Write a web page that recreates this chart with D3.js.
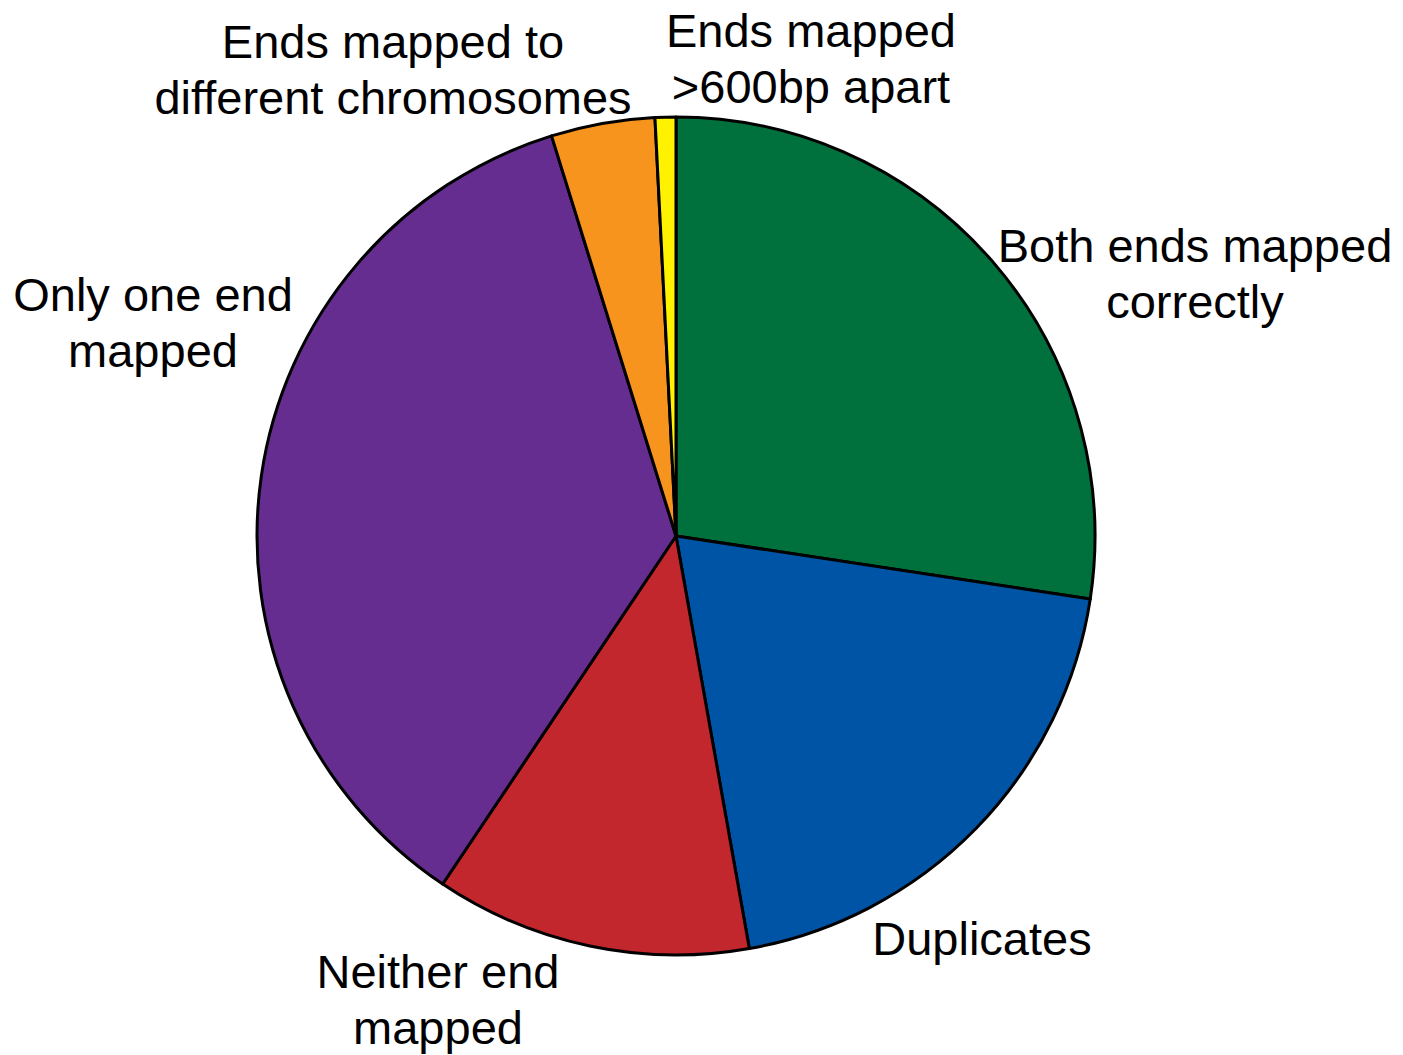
<!DOCTYPE html>
<html>
<head>
<meta charset="utf-8">
<script src="https://d3js.org/d3.v7.min.js"></script>
<style>
  html, body { margin: 0; padding: 0; background: #fff; }
  svg { display: block; }
  text { font-family: "Liberation Sans", Arial, sans-serif; fill: #000; }
</style>
</head>
<body>
<script>
// Read-pair mapping outcomes (percent of pairs), clockwise from 12 o'clock
const categories = [
  "Both ends mapped correctly",
  "Duplicates",
  "Neither end mapped",
  "Only one end mapped",
  "Ends mapped to different chromosomes",
  "Ends mapped >600bp apart"
];
const values = [27.4, 19.8, 12.2, 35.8, 4.0, 0.8];
const colors = ["#00703c", "#0054a6", "#c1272d", "#652d90", "#f7941d", "#fff200"];

// Label lines for each slice
const labelLines = [
  ["Both ends mapped", "correctly"],
  ["Duplicates"],
  ["Neither end", "mapped"],
  ["Only one end", "mapped"],
  ["Ends mapped to", "different chromosomes"],
  ["Ends mapped", ">600bp apart"]
];

// Label anchor points (centre x, first baseline y)
const labelAnchors = [
  [1195, 262],
  [982, 955],
  [438, 988],
  [153, 311],
  [393, 58],
  [811, 47]
];

const width = 1403, height = 1055;
const cx = 676, cy = 536, radius = 419;
const fontSize = 47, lineGap = 56;

const svg = d3.select("body").append("svg")
  .attr("width", width)
  .attr("height", height);

const pie = d3.pie().sort(null).value(d => d.value);
const arc = d3.arc().innerRadius(0).outerRadius(radius);

const data = categories.map((c, i) => ({ name: c, value: values[i], color: colors[i] }));

const g = svg.append("g").attr("transform", `translate(${cx},${cy})`);

g.selectAll("path")
  .data(pie(data))
  .join("path")
  .attr("d", arc)
  .attr("fill", d => d.data.color)
  .attr("stroke", "#000")
  .attr("stroke-width", 3)
  .attr("stroke-linejoin", "round");

const labels = svg.append("g").selectAll("text")
  .data(categories)
  .join("text")
  .attr("text-anchor", "middle")
  .attr("font-size", fontSize)
  .attr("x", (d, i) => labelAnchors[i][0])
  .attr("y", (d, i) => labelAnchors[i][1]);

labels.each(function(d, i) {
  const t = d3.select(this);
  labelLines[i].forEach((line, j) => {
    t.append("tspan")
      .attr("x", labelAnchors[i][0])
      .attr("y", labelAnchors[i][1] + j * lineGap)
      .text(line);
  });
});
</script>
</body>
</html>
